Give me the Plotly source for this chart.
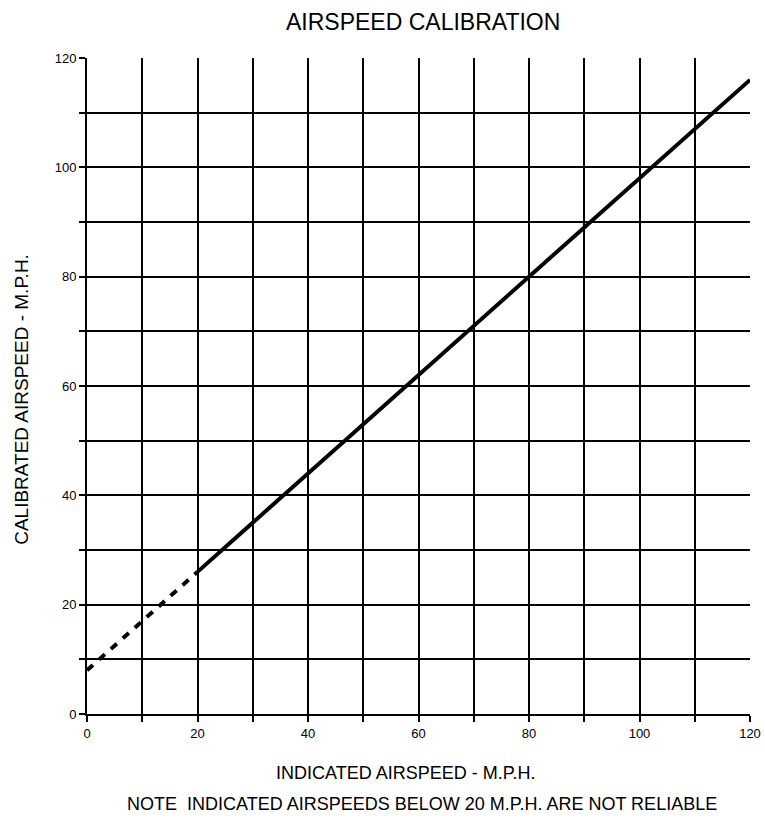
import plotly.graph_objects as go

# indicated airspeed (mph) vs calibrated airspeed (mph)
unreliable_ias = [0, 10, 20]
unreliable_cas = [8, 17, 26]
ias = [20, 30, 40, 50, 60, 70, 80, 90, 100, 110, 120]
cas = [26, 35, 44, 53, 62, 71, 80, 89, 98, 107, 116]

tick_vals = list(range(0, 130, 10))
tick_text = ["0", "", "20", "", "40", "", "60", "", "80", "", "100", "", "120"]

FONT = "Liberation Sans, Arial, sans-serif"

fig = go.Figure()

# below 20 mph the reading isn't reliable -> dashed
fig.add_trace(go.Scatter(x=unreliable_ias, y=unreliable_cas, mode="lines",
                         line=dict(color="black", width=4, dash="8px,8px"),
                         showlegend=False, hoverinfo="skip"))
fig.add_trace(go.Scatter(x=ias, y=cas, mode="lines",
                         line=dict(color="black", width=4),
                         showlegend=False))

axis_style = dict(
    range=[0, 120],
    tickmode="array",
    tickvals=tick_vals,
    ticktext=tick_text,
    ticks="outside",
    ticklen=6,
    tickwidth=2,
    tickcolor="black",
    showgrid=True,
    gridcolor="black",
    gridwidth=2,
    showline=True,
    linecolor="black",
    linewidth=2,
    zeroline=False,
    automargin=False,
    ticklabeloverflow="allow",
    tickfont=dict(family=FONT, size=13, color="black"),
)

fig.update_xaxes(**axis_style)
fig.update_yaxes(**axis_style)

fig.update_layout(
    width=765,
    height=819,
    plot_bgcolor="white",
    paper_bgcolor="white",
    margin=dict(l=87, r=15, t=58, b=105, autoexpand=False),
    font=dict(family=FONT, color="black"),
)

# titles placed as annotations so they sit where the scan has them
fig.add_annotation(text="AIRSPEED CALIBRATION", xref="paper", yref="paper",
                   x=0.507, y=1.055, xanchor="center", yanchor="middle",
                   showarrow=False, font=dict(size=23, family=FONT))
fig.add_annotation(text="INDICATED AIRSPEED - M.P.H.", xref="paper", yref="paper",
                   x=0.48, y=-0.09, xanchor="center", yanchor="middle",
                   showarrow=False, font=dict(size=18, family=FONT))
fig.add_annotation(text="CALIBRATED AIRSPEED - M.P.H.", xref="paper", yref="paper",
                   x=-0.098, y=0.479, xanchor="center", yanchor="middle", textangle=-90,
                   showarrow=False, font=dict(size=19, family=FONT))
fig.add_annotation(text="NOTE  INDICATED AIRSPEEDS BELOW 20 M.P.H. ARE NOT RELIABLE",
                   xref="paper", yref="paper", x=0.505, y=-0.137,
                   xanchor="center", yanchor="middle", showarrow=False,
                   font=dict(size=18, family=FONT))

# drop the default body margin so the figure fills the window exactly
fig.write_html("out.html",
               config={"displayModeBar": False},
               post_script="document.body.style.margin='0';document.body.style.overflow='hidden';")
